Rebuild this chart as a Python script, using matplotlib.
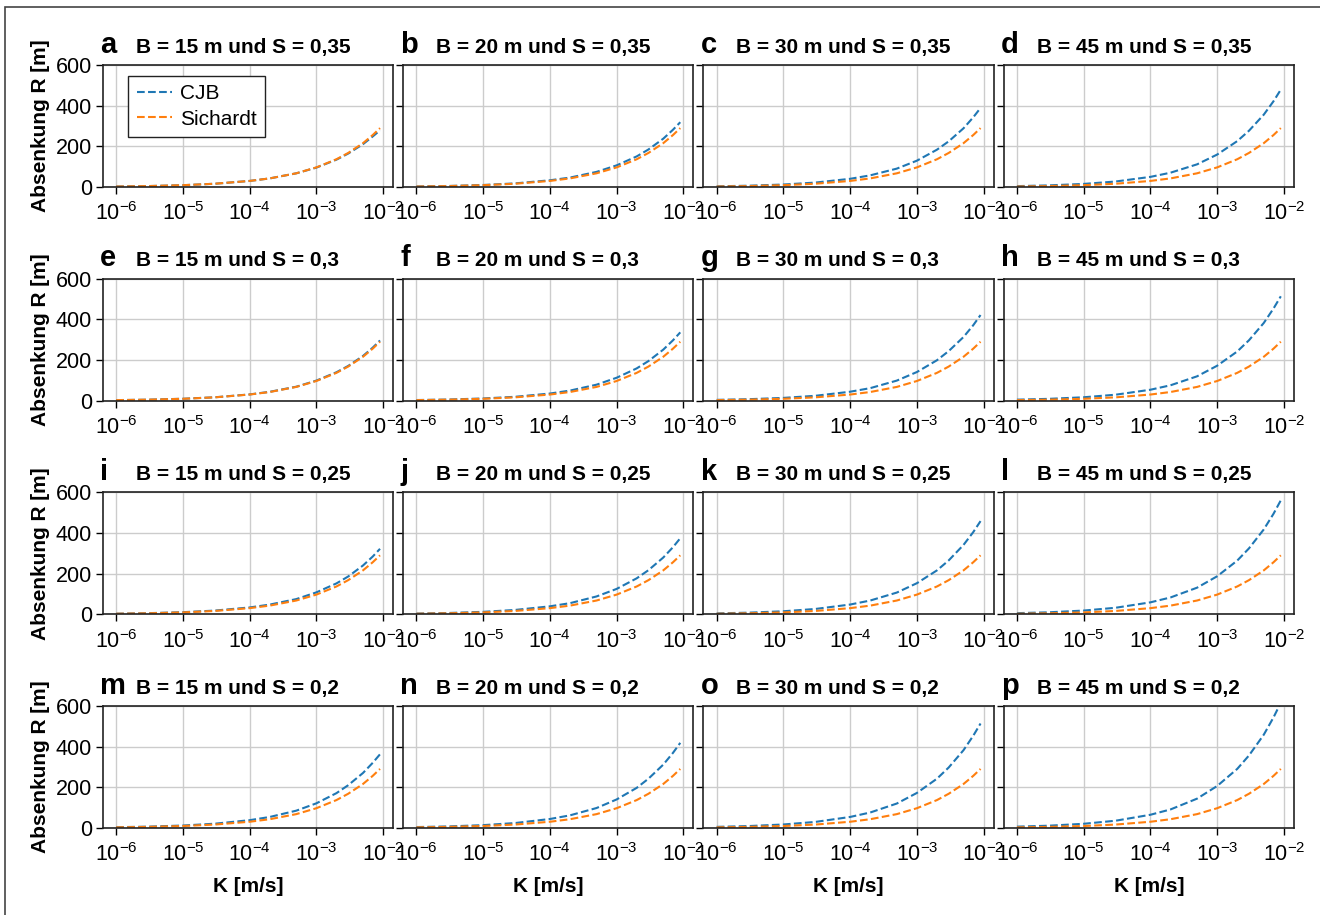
import matplotlib
matplotlib.use("Agg")
from matplotlib import pyplot as plt
from matplotlib.patches import Rectangle

plt.rcParams['font.family'] = ['Liberation Sans', 'DejaVu Sans']
plt.rcParams['mathtext.fontset'] = 'custom'
plt.rcParams['mathtext.rm'] = 'Liberation Sans'
plt.rcParams['mathtext.it'] = 'Liberation Sans:italic'
plt.rcParams['mathtext.bf'] = 'Liberation Sans:bold'

# K values [m/s] at which the curves were read
K = [1e-6, 3e-6, 1e-5, 3e-5, 1e-4, 2e-4, 5e-4, 1e-3, 2e-3, 3e-3, 5e-3, 7e-3, 9e-3]

# Sichardt (same in every panel)
sichardt = [3.1, 5.3, 9.7, 16.8, 30.6, 43, 68, 97, 137, 168, 216, 256, 290]

# CJB per panel
cjb = {
    'a': [3.1, 5.3, 9.7, 16.8, 30.6, 43, 68, 96, 135, 165, 211, 249, 279],
    'b': [3.4, 5.8, 10.7, 18.5, 33.7, 47, 75, 107, 151, 185, 238, 282, 319],
    'c': [4.2, 7.1, 13.0, 22.5, 41, 58, 91, 130, 184, 225, 289, 343, 389],
    'd': [5.1, 8.7, 16.0, 27.7, 50.5, 71, 112, 160, 226, 277, 356, 422, 479],
    'e': [3.2, 5.4, 9.9, 17.1, 31.2, 44, 69, 99, 140, 171, 220, 261, 296],
    'f': [3.6, 6.1, 11.3, 19.5, 35.5, 50, 79, 113, 159, 195, 251, 297, 336],
    'g': [4.5, 7.7, 14.1, 24.4, 44.4, 62, 99, 141, 199, 244, 313, 371, 421],
    'h': [5.5, 9.4, 17.2, 29.7, 54.2, 76, 120, 172, 242, 297, 382, 453, 513],
    'i': [3.4, 5.9, 10.8, 18.6, 34.0, 48, 75, 108, 152, 186, 240, 284, 322],
    'j': [4.0, 6.8, 12.5, 21.7, 39.5, 55, 88, 125, 177, 217, 279, 330, 374],
    'k': [4.9, 8.4, 15.3, 26.5, 48.3, 68, 107, 153, 216, 265, 341, 404, 458],
    'l': [6.0, 10.2, 18.7, 32.4, 59.1, 83, 131, 187, 264, 324, 417, 494, 560],
    'm': [3.9, 6.6, 12.1, 21.0, 38.3, 54, 85, 121, 171, 210, 270, 320, 362],
    'n': [4.5, 7.6, 14.0, 24.2, 44.1, 62, 98, 140, 197, 242, 311, 369, 418],
    'o': [5.5, 9.4, 17.2, 29.7, 54.2, 76, 120, 172, 242, 297, 382, 453, 513],
    'p': [6.6, 11.2, 20.6, 35.6, 64.9, 91, 144, 206, 290, 356, 458, 543, 615],
}

letters = ['a', 'b', 'c', 'd', 'e', 'f', 'g', 'h', 'i', 'j', 'k', 'l', 'm', 'n', 'o', 'p']
B_values = ['15', '20', '30', '45']
S_values = ['0,35', '0,3', '0,25', '0,2']

fig, axes = plt.subplots(4, 4, figsize=(13.2, 9.15), dpi=100, sharey=True)
fig.subplots_adjust(left=0.078, right=0.9803, top=0.929, bottom=0.0951,
                    wspace=0.0345, hspace=0.748)

for r in range(4):
    for c in range(4):
        ax = axes[r, c]
        key = letters[r * 4 + c]
        ax.plot(K, cjb[key], '--', color='tab:blue', lw=1.5, label='CJB')
        ax.plot(K, sichardt, '--', color='tab:orange', lw=1.5, label='Sichardt')
        ax.set_xscale('log')
        ax.set_ylim(0, 600)
        ax.set_yticks([0, 200, 400, 600])
        ax.set_xticks([1e-6, 1e-5, 1e-4, 1e-3, 1e-2])
        ax.grid(True, which='major', color='#cccccc', lw=1)
        ax.set_axisbelow(True)
        ax.tick_params(axis='both', which='major', labelsize=15.5, length=5, width=1,
                       direction='out', pad=3)
        ax.tick_params(axis='x', which='major', pad=6)
        ax.tick_params(axis='x', which='minor', length=3, width=0.8)
        for sp in ax.spines.values():
            sp.set_linewidth(1.2)
            sp.set_color('#222222')
        if c == 0:
            ax.set_ylabel('Absenkung R [m]', fontsize=15, fontweight='bold', labelpad=4)
        else:
            ax.tick_params(axis='y', labelleft=False)
        if r == 3:
            ax.set_xlabel('K [m/s]', fontsize=15, fontweight='bold', labelpad=8)
        ax.text(-0.01, 1.1, key, transform=ax.transAxes, fontsize=21,
                fontweight='bold', ha='left', va='baseline')
        ax.text(0.113, 1.1, f'B = {B_values[c]} m und S = {S_values[r]}',
                transform=ax.transAxes, fontsize=15, fontweight='bold',
                ha='left', va='baseline')
        if key == 'a':
            ax.legend(loc='upper left', bbox_to_anchor=(0.087, 0.91), fontsize=15,
                      fancybox=False, edgecolor='#222222', framealpha=1,
                      handlelength=1.7, handletextpad=0.4, borderpad=0.4,
                      labelspacing=0.3, borderaxespad=0.0)

fig.patches.append(Rectangle((5 / 1320, -0.01), 1.1, 1 - 7 / 915 + 0.01,
                             transform=fig.transFigure, fill=False,
                             edgecolor='#444444', lw=1.2, zorder=-1))

fig.savefig('out.png', dpi=100)
